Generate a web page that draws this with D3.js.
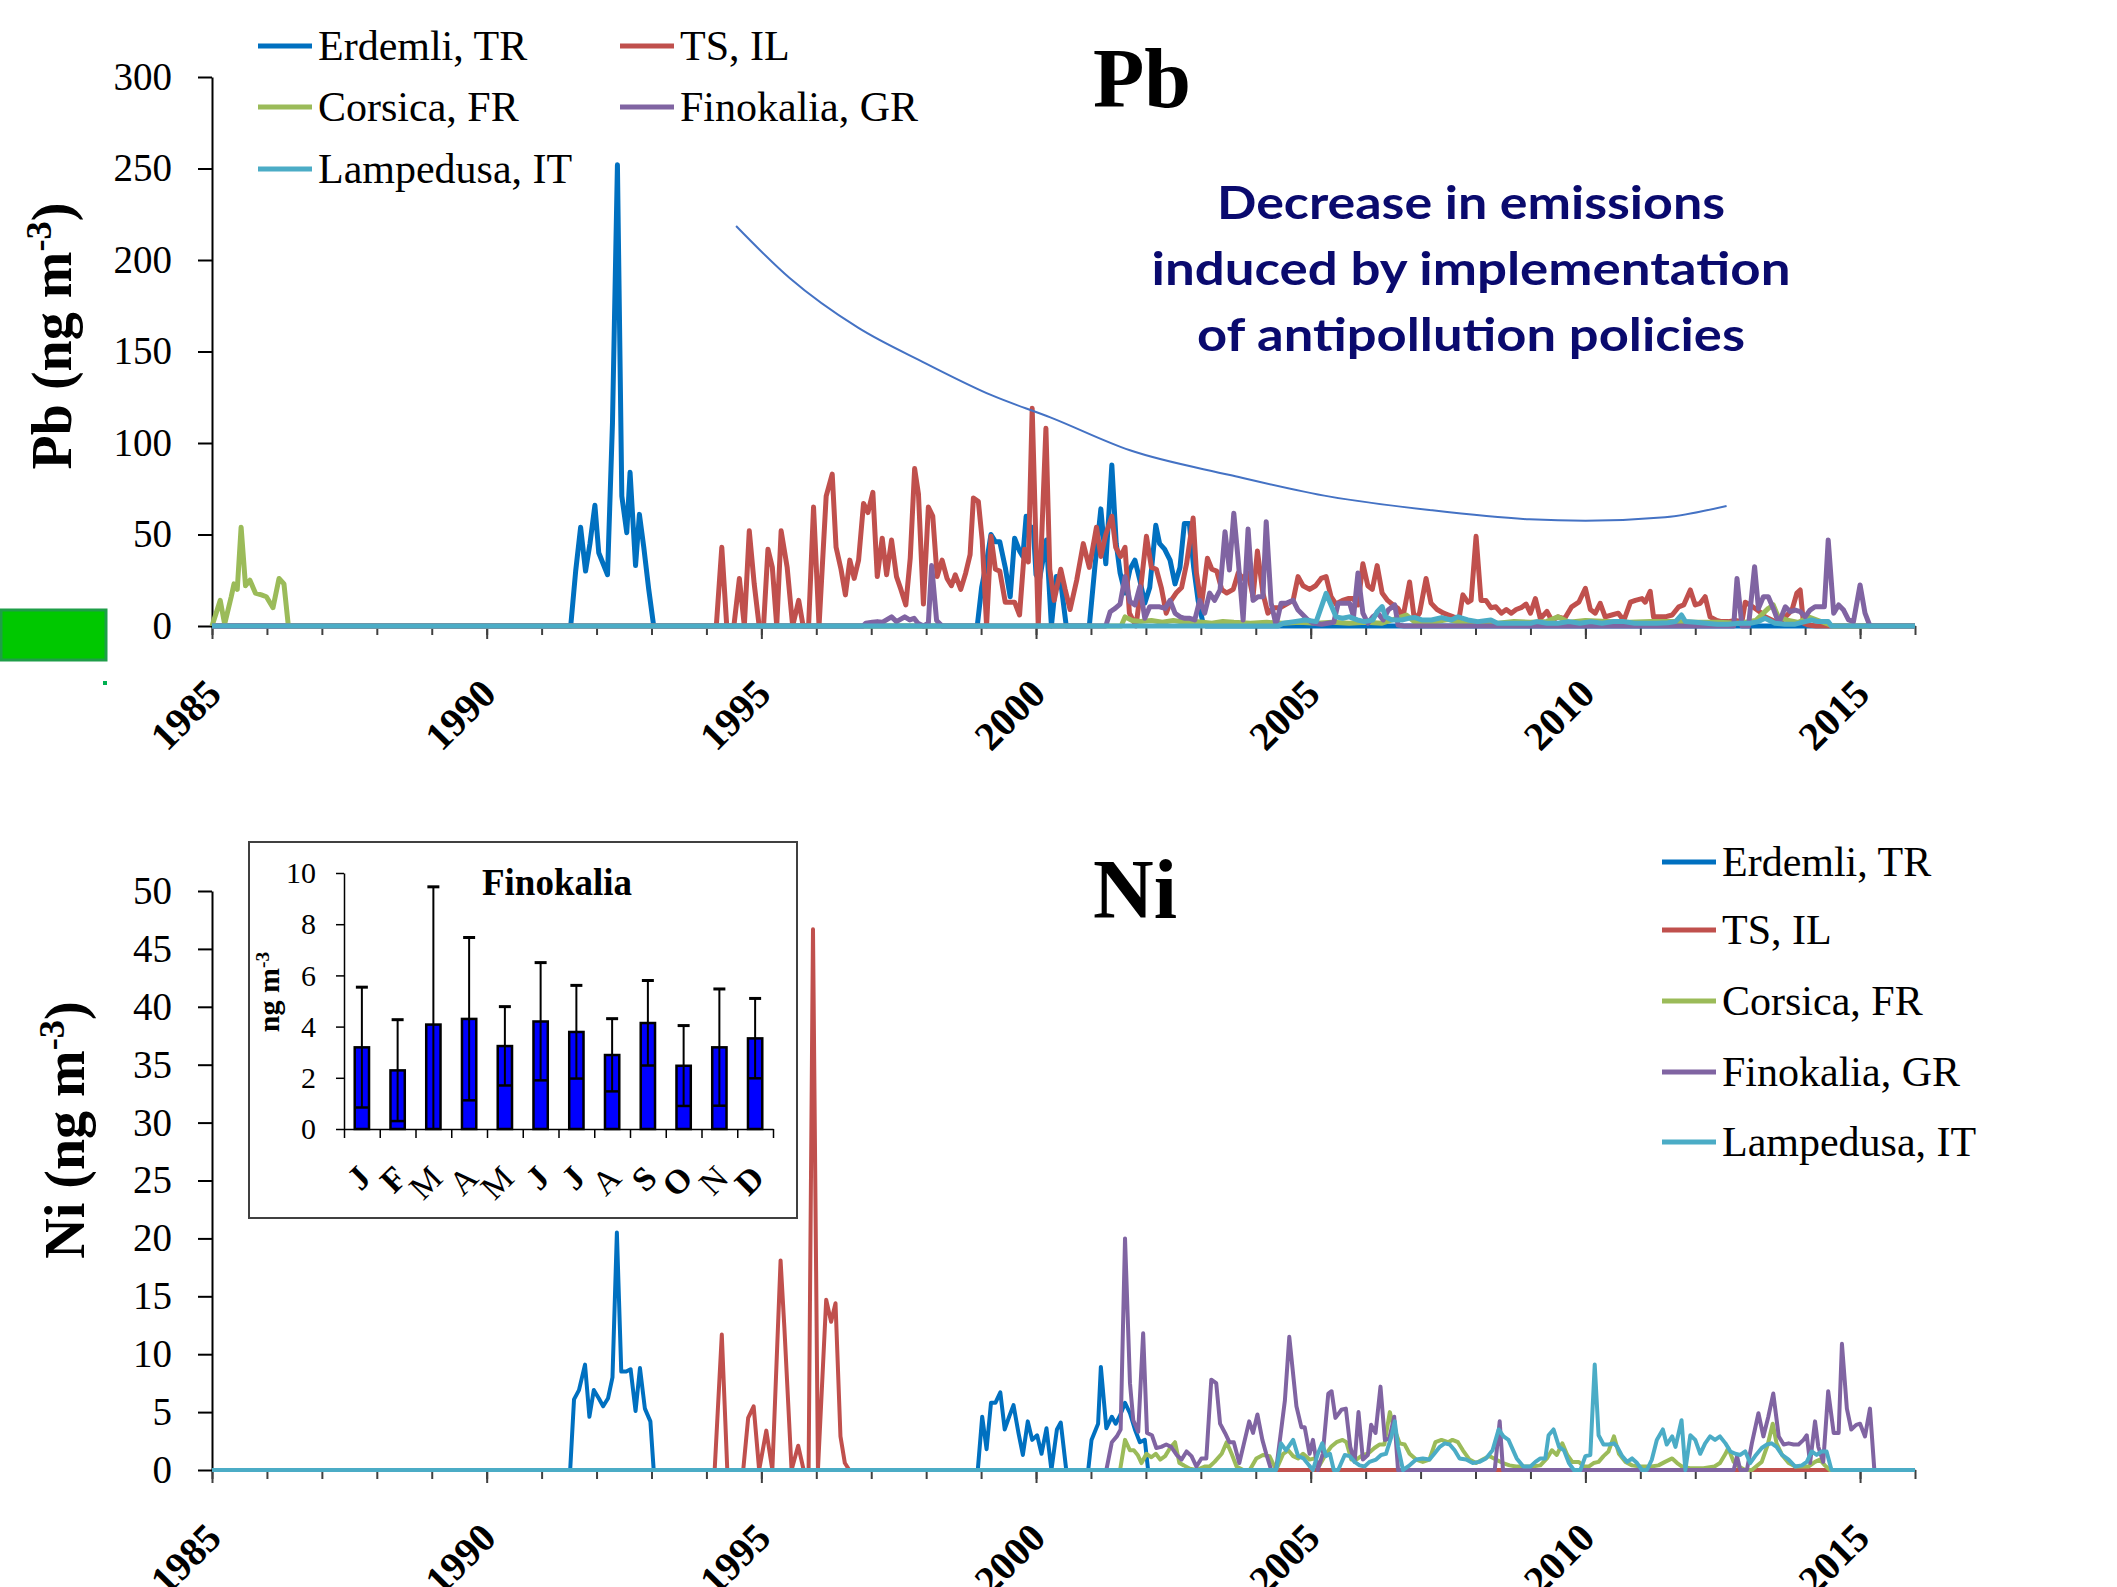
<!doctype html>
<html>
<head>
<meta charset="utf-8">
<script src="https://cdnjs.cloudflare.com/ajax/libs/d3/7.8.5/d3.min.js"></script>
<style>
    body { margin: 0; background: #fff; }
    svg { display: block; }
</style>
</head>
<body>
<script>
// ---- data (decimal year, ng m-3) ----
var sites = ["Erdemli, TR", "TS, IL", "Corsica, FR", "Finokalia, GR", "Lampedusa, IT"];
var colors = ["#0070c0", "#c0504d", "#9bbb59", "#8064a2", "#4bacc6"];

var pbErdemli = [[1985,0],[1991.53,0],[1991.62,30],[1991.71,54],[1991.8,30],[1991.88,45],[1991.97,66],[1992.04,40],[1992.12,34],[1992.2,28],[1992.29,111],[1992.38,252],[1992.46,71],[1992.55,51],[1992.61,84],[1992.71,33],[1992.78,61],[1992.86,43],[1992.95,20],[1993.04,0],
    [1998.93,0],[1999.01,21],[1999.1,35],[1999.18,50],[1999.26,46],[1999.34,46],[1999.44,32],[1999.53,16],[1999.61,48],[1999.7,41],[1999.76,38],[1999.82,60],[1999.9,53],[1999.95,54],[2000.0,28],[2000.06,25],[2000.19,47],[2000.28,0],[2000.37,27],[2000.46,21.5],[2000.55,0],
    [2000.97,0],[2001.07,32],[2001.18,64],[2001.27,34],[2001.38,88],[2001.46,45],[2001.53,29],[2001.62,18],[2001.71,31],[2001.8,36],[2001.89,25],[2001.98,12.5],[2002.07,21],[2002.18,55],[2002.25,45],[2002.34,42],[2002.44,36],[2002.53,23],[2002.62,32],[2002.7,56],[2002.79,56],[2002.87,32],[2002.95,14],[2003.04,1.5],[2003.1,0],[2016,0]];
var pbTS = [[1985,0],[1994.18,0],[1994.28,43],[1994.37,0],[1994.5,0],[1994.6,26],[1994.69,0],[1994.78,52],[1994.87,23],[1994.96,0],[1995.04,0],[1995.12,42],[1995.2,32],[1995.28,0],[1995.36,52],[1995.47,32],[1995.57,0],[1995.68,14],[1995.76,0],[1995.86,0],[1995.95,65],[1996.05,0],[1996.18,71],[1996.29,83],[1996.36,43],[1996.45,31],[1996.53,17],[1996.61,36],[1996.69,26],[1996.77,36],[1996.86,67],[1996.94,62],[1997.03,73],[1997.11,27],[1997.2,48],[1997.28,28],[1997.37,47],[1997.46,27],[1997.54,20],[1997.63,11.5],[1997.71,37],[1997.79,86],[1997.86,72],[1997.95,12],[1998.04,65],[1998.12,60],[1998.2,27],[1998.29,36],[1998.38,26],[1998.46,22],[1998.53,28],[1998.63,20],[1998.72,29],[1998.8,39],[1998.86,70],[1998.95,68],[1999.02,47],[1999.1,0],[1999.18,49],[1999.26,31],[1999.34,30],[1999.44,13],[1999.61,13],[1999.7,6],[1999.79,42],[1999.86,35],[1999.93,119],[2000.04,0],[2000.18,108],[2000.25,31],[2000.33,14],[2000.45,31],[2000.53,20],[2000.62,9],[2000.74,25],[2000.86,45],[2000.97,32],[2001.1,54],[2001.18,38],[2001.27,50],[2001.38,60],[2001.45,43],[2001.54,38],[2001.62,43],[2001.7,7],[2001.82,0],[2001.88,14],[2002.01,49],[2002.1,32],[2002.19,31],[2002.28,21],[2002.37,7],[2002.46,14],[2002.55,18],[2002.65,21],[2002.74,34],[2002.86,59],[2002.92,29],[2003.01,11],[2003.12,37],[2003.2,31],[2003.29,30],[2003.38,20],[2003.47,18],[2003.59,20],[2003.68,29],[2003.77,26],[2003.86,29],[2003.95,16],[2004.03,41],[2004.13,18],[2004.22,7],[2004.32,10],[2004.44,10],[2004.56,12],[2004.68,14],[2004.77,27],[2004.86,22],[2004.98,20],[2005.09,22],[2005.19,26],[2005.28,27],[2005.37,16],[2005.46,12],[2005.58,14],[2005.68,15],[2005.77,15],[2005.86,11.5],[2005.95,34],[2006.04,22],[2006.12,20],[2006.21,33],[2006.3,18],[2006.4,14],[2006.5,11.5],[2006.59,9.5],[2006.68,5],[2006.8,24],[2006.89,3],[2006.98,7],[2007.1,26],[2007.19,12.5],[2007.3,9],[2007.42,7],[2007.51,6],[2007.6,5],[2007.7,4],[2007.77,17],[2007.86,13],[2007.92,14],[2008.01,49],[2008.1,14],[2008.19,14],[2008.28,10],[2008.37,10.5],[2008.47,7],[2008.56,9],[2008.65,7],[2008.74,9],[2008.83,10],[2008.92,12],
    [2009.0,7],[2009.09,15],[2009.18,4],[2009.3,8],[2009.39,3],[2009.5,5],[2009.62,4],[2009.75,10.5],[2009.88,13],[2010.0,20.6],[2010.09,9],[2010.18,7],[2010.27,12.4],[2010.36,5],[2010.48,6],[2010.6,7],[2010.7,3],[2010.82,13],[2010.91,14],[2011.03,15],[2011.09,13],[2011.18,19],[2011.24,5],[2011.33,5],[2011.45,5],[2011.58,6],[2011.7,10.5],[2011.79,11.5],[2011.91,19.7],[2012.0,11.5],[2012.09,12.4],[2012.18,16],[2012.27,5],[2012.39,3],[2012.48,2.4],[2012.6,2.4],[2012.73,3],[2012.85,2.4],[2012.91,13],[2013.0,11.5],[2013.09,9.6],[2013.21,7],[2013.27,5],[2013.45,2.4],[2013.58,3],[2013.76,8.7],[2013.85,18],[2013.91,19.7],[2013.97,1.5],[2014.06,0.5],[2014.2,0],[2016,0]];
var pbCorsica = [[1985,0],[1985.15,14],[1985.23,1],[1985.35,16],[1985.4,23],[1985.46,20],[1985.53,54],[1985.61,22],[1985.69,25],[1985.79,18],[1985.9,17],[1985.99,16],[1986.11,10],[1986.22,26],[1986.31,23],[1986.39,0],[2001.55,0],[2001.62,5],[2001.75,3],[2001.9,2.5],[2002.1,3],[2002.3,2],[2002.5,3],[2002.7,2],[2002.9,2.5],[2003.2,1.5],[2003.4,2.5],[2003.6,2],[2003.9,1.5],[2004.2,2],[2004.5,1.5],[2004.8,2],[2005.1,1.5],[2005.4,2],[2005.7,1.5],[2006.0,2],[2006.3,1.5],[2006.74,6],[2006.9,2],[2007.2,2],[2007.5,3.5],[2007.8,1.5],[2008.1,2],[2008.4,1.5],[2008.7,2.5],[2009.0,2],[2009.3,2.5],[2009.5,5],[2009.7,2],[2010.0,3],[2010.4,2.5],[2010.8,2],[2011.2,2.5],[2011.6,2.5],[2012.0,2],[2012.4,2],[2012.8,1.5],[2013.1,3],[2013.33,9.6],[2013.42,11.5],[2013.51,5],[2013.7,3],[2013.88,2],[2014.06,5],[2014.24,3],[2014.42,1],[2014.5,0],[2016,0]];
var pbFinokalia = [[1985,0],[1996.85,0],[1996.9,1.5],[1997.02,2],[1997.11,2.4],[1997.2,2],[1997.37,5],[1997.46,2.4],[1997.61,5],[1997.7,3.3],[1997.78,4.2],[1997.85,1.5],[1997.95,0],[1998.04,1.5],[1998.1,33],[1998.19,3],[1998.29,0],
    [2001.27,0],[2001.35,7.8],[2001.44,9.6],[2001.53,12],[2001.62,27],[2001.71,13.3],[2001.8,11.5],[2001.89,21.5],[2001.98,4.2],[2002.07,10.5],[2002.16,10.5],[2002.25,10.5],[2002.35,9.6],[2002.44,14],[2002.53,7],[2002.62,5],[2002.71,4.2],[2002.8,4.2],[2002.89,3.3],[2002.98,14],[2003.07,7],[2003.16,18],[2003.25,14],[2003.35,19.7],[2003.44,51.5],[2003.52,30.6],[2003.6,61.6],[2003.68,36],[2003.77,3.3],[2003.86,53],[2003.95,14],[2004.04,16],[2004.13,16],[2004.19,57],[2004.28,12.4],[2004.37,0.5],[2004.46,12.4],[2004.55,12.4],[2004.68,14],[2004.77,8.7],[2004.86,6],[2004.95,3.3],[2005.05,1.5],[2005.2,1],[2005.42,2],[2005.5,12.4],[2005.62,12.4],[2005.71,12.4],[2005.78,5],[2005.86,29],[2005.95,7],[2006.04,1.5],[2006.13,5],[2006.22,7],[2006.32,3.3],[2006.41,8.7],[2006.53,11.5],[2006.59,0.5],[2006.7,0],
    [2012.7,0],[2012.76,26],[2012.85,0],[2012.97,0],[2013.08,32.4],[2013.15,9.6],[2013.24,16],[2013.33,16],[2013.42,9.6],[2013.52,1.5],[2013.64,10.5],[2013.73,7.8],[2013.82,8.7],[2013.91,7.8],[2014.0,5],[2014.09,8.7],[2014.18,10.5],[2014.27,10.5],[2014.35,10.5],[2014.42,47],[2014.52,7],[2014.61,11.5],[2014.7,8.7],[2014.79,3.3],[2014.88,2.4],[2015.0,22.4],[2015.09,7],[2015.18,0],[2016,0]];
var pbLampedusa = [[1985,0],[2004.4,0],[2004.5,1.5],[2004.7,2.4],[2004.9,3.3],[2005.1,2.4],[2005.28,17.8],[2005.37,11.5],[2005.46,5],[2005.58,4.2],[2005.7,5],[2005.85,3.3],[2005.98,2.4],[2006.13,3.3],[2006.21,7.8],[2006.3,10.6],[2006.36,5],[2006.48,3.3],[2006.66,3.3],[2006.78,4.2],[2006.9,4.6],[2007.02,3.3],[2007.2,3.3],[2007.38,4.6],[2007.56,3.3],[2007.68,5],[2007.86,3.3],[2008.04,2.4],[2008.28,3.3],[2008.4,1.5],[2008.6,1.5],[2008.8,1.5],[2009.0,1.5],[2009.12,2.4],[2009.3,1.5],[2009.5,1.5],[2009.7,2.4],[2009.9,1.5],[2010.1,2.4],[2010.3,1.5],[2010.5,2.4],[2010.7,2.4],[2010.9,1.5],[2011.1,1.5],[2011.3,1.5],[2011.5,1.8],[2011.64,2.4],[2011.75,6],[2011.82,2.4],[2012.0,2],[2012.2,1.5],[2012.4,1],[2012.6,1],[2012.8,1.5],[2013.0,1.5],[2013.15,2.4],[2013.27,4.2],[2013.45,1.5],[2013.63,1],[2013.82,1],[2014.0,2.4],[2014.12,3.3],[2014.24,2.4],[2014.42,2.4],[2014.48,0],[2016,0]];

var niErdemli = [[1985,0],[1991.52,0],[1991.59,6.1],[1991.68,6.9],[1991.79,9.1],[1991.87,4.6],[1991.95,6.9],[1992.04,6.2],[1992.12,5.5],[1992.21,6.2],[1992.29,8],[1992.37,20.5],[1992.45,8.5],[1992.54,8.5],[1992.62,8.7],[1992.71,5.1],[1992.79,8.8],[1992.88,5.3],[1992.98,4.2],[1993.04,0],
    [1998.94,0],[1999.02,4.6],[1999.1,1.8],[1999.18,5.8],[1999.26,5.8],[1999.35,6.7],[1999.43,3.5],[1999.51,4.6],[1999.59,5.6],[1999.68,3.2],[1999.76,1.3],[1999.85,4.2],[1999.93,2.6],[2000.02,3],[2000.1,1.4],[2000.19,3.6],[2000.28,0],[2000.38,3.5],[2000.45,4.1],[2000.55,0],
    [2000.95,0],[2001.01,2.6],[2001.13,4],[2001.18,8.9],[2001.28,3.6],[2001.38,4.6],[2001.45,4],[2001.53,4.7],[2001.62,5.8],[2001.71,4.9],[2001.8,3.5],[2001.89,2.4],[2001.98,2.6],[2002.04,0],[2016,0]];
var niTS = [[1985,0],[1994.15,0],[1994.28,11.7],[1994.38,0],[1994.67,0],[1994.76,4.5],[1994.86,5.5],[1994.96,0],[1995.09,3.4],[1995.2,0],[1995.35,18.1],[1995.42,12.2],[1995.55,0],[1995.67,2.1],[1995.77,0],[1995.86,0],[1995.94,46.7],[1996.03,0],[1996.18,14.7],[1996.27,12.8],[1996.35,14.4],[1996.44,2.9],[1996.52,0.6],[1996.6,0],[2014.5,0]];
var niCorsica = [[1985,0],[2001.53,0],[2001.62,2.6],[2001.71,1.7],[2001.78,1.7],[2001.85,1.3],[2001.92,0.6],[2002.01,1.4],[2002.1,1.1],[2002.18,1.4],[2002.26,0.9],[2002.35,1.2],[2002.44,1.9],[2002.53,2.4],[2002.61,0.6],[2002.69,0.4],[2002.8,0.1],[2002.92,0],[2003.07,0.3],[2003.16,0.3],[2003.25,0.7],[2003.38,1.4],[2003.47,2.4],[2003.56,1.4],[2003.65,0.3],[2003.77,0],[2003.89,0],[2004.01,1],[2004.13,1.3],[2004.25,1.2],[2004.37,0],[2004.5,1.4],[2004.59,1.7],[2004.68,1.2],[2004.77,1],[2004.86,1.4],[2004.98,0.9],[2005.07,1],[2005.16,0.4],[2005.22,0.9],[2005.28,1.4],[2005.37,2],[2005.47,2.4],[2005.58,2.6],[2005.65,2.4],[2005.74,0.9],[2005.83,0.9],[2005.95,1.3],[2006.04,1.4],[2006.16,1.9],[2006.25,2.2],[2006.34,2.2],[2006.44,5],[2006.51,3.7],[2006.62,2.3],[2006.71,2.2],[2006.8,1.4],[2006.92,0.9],[2007.04,0.7],[2007.16,0.9],[2007.27,2.4],[2007.38,2.6],[2007.5,2.4],[2007.58,2.6],[2007.68,2.4],[2007.77,1.7],[2007.89,0.9],[2008.01,0.6],[2008.13,0.9],[2008.25,1.2],[2008.37,0.9],[2008.5,0.6],[2008.62,0.4],[2008.74,0.3],[2008.85,0.3],[2009.03,0.3],[2009.18,0.4],[2009.3,1],[2009.39,1.7],[2009.48,1.3],[2009.58,2.3],[2009.67,1.3],[2009.76,0.7],[2009.88,0.7],[2009.97,0.3],[2010.06,0.3],[2010.15,0.6],[2010.24,0.7],[2010.33,1.2],[2010.42,1.6],[2010.52,2.9],[2010.61,1.4],[2010.73,0.7],[2010.85,0.4],[2011.0,0.3],[2011.2,0.3],[2011.33,0.4],[2011.45,0.7],[2011.58,1],[2011.67,0.6],[2011.76,0.3],[2011.9,0.15],[2012.15,0.15],[2012.35,0.3],[2012.45,0.6],[2012.55,1.4],[2012.6,1.9],[2012.7,0.7],[2012.79,0.3],[2012.91,0],[2013.03,0],[2013.21,0.7],[2013.32,2.2],[2013.41,4],[2013.48,2.3],[2013.58,1.3],[2013.7,0.6],[2013.82,0.3],[2014.06,0.3],[2014.18,0.7],[2014.27,0.9],[2014.36,0.4],[2014.45,0],[2016,0]];
var niFinokalia = [[1985,0],[2001.28,0],[2001.38,2.4],[2001.47,2.9],[2001.54,3.5],[2001.62,20],[2001.71,7.5],[2001.77,4.3],[2001.86,3.3],[2001.95,11.8],[2002.02,3.2],[2002.11,3],[2002.19,1.9],[2002.28,2],[2002.37,2.2],[2002.46,2],[2002.56,1.3],[2002.65,0.9],[2002.74,1.6],[2002.83,1.2],[2002.92,0.3],[2003.01,1],[2003.1,1],[2003.19,7.8],[2003.28,7.5],[2003.35,4],[2003.44,3.2],[2003.52,2.4],[2003.6,2.4],[2003.7,0.6],[2003.77,2],[2003.88,4.2],[2003.95,3.2],[2004.03,4.8],[2004.12,2.6],[2004.19,1.4],[2004.28,0],[2004.37,0],[2004.53,6],[2004.61,11.5],[2004.74,5.5],[2004.83,3.7],[2004.89,3.7],[2004.98,1.4],[2005.04,2.6],[2005.13,0],[2005.22,1.4],[2005.32,6.6],[2005.38,6.8],[2005.45,4.5],[2005.56,5.2],[2005.64,5.3],[2005.72,2],[2005.8,0.7],[2005.87,5],[2005.95,0.9],[2006.04,1.3],[2006.1,3.9],[2006.18,3.2],[2006.27,7.2],[2006.35,2.6],[2006.43,2.7],[2006.52,4.6],[2006.59,0],[2008.35,0],[2008.44,4.2],[2008.5,0],
    [2012.7,0],[2012.76,1.2],[2012.82,0],[2012.94,0],[2013.03,2.3],[2013.15,4.9],[2013.24,2.9],[2013.33,4.6],[2013.42,6.6],[2013.52,2.9],[2013.61,2.2],[2013.7,2.3],[2013.79,2.2],[2013.88,2.2],[2013.97,2.6],[2014.03,3],[2014.09,0.6],[2014.18,4.2],[2014.24,2],[2014.33,0.7],[2014.42,6.8],[2014.52,3.2],[2014.61,3.2],[2014.67,10.9],[2014.76,5.3],[2014.84,3.5],[2014.93,3.9],[2015.0,4],[2015.09,2.9],[2015.18,5.3],[2015.26,0],[2016,0]];
var niLampedusa = [[1985,0],[2004.37,0],[2004.46,2.3],[2004.55,1.7],[2004.68,2.6],[2004.77,1.2],[2004.87,1],[2004.97,0.4],[2005.04,0],[2005.13,1.4],[2005.21,2.3],[2005.28,1.2],[2005.35,1.4],[2005.42,0],[2005.5,0],[2005.62,1.3],[2005.71,1.2],[2005.8,0.7],[2005.89,0.4],[2005.98,0.3],[2006.07,0.7],[2006.19,0.9],[2006.28,1.3],[2006.37,1.4],[2006.47,2.9],[2006.53,4.2],[2006.59,2],[2006.68,0],[2006.8,0.4],[2006.92,0.9],[2007.04,1],[2007.16,0.9],[2007.25,1.4],[2007.35,2],[2007.44,2.3],[2007.53,2.2],[2007.62,1.7],[2007.71,1],[2007.83,0.9],[2007.95,0.6],[2008.07,0.7],[2008.19,1],[2008.31,1.7],[2008.42,3.5],[2008.51,2.9],[2008.6,2.6],[2008.75,1],[2008.87,0.3],[2009.0,0.3],[2009.09,0.7],[2009.18,1],[2009.27,1],[2009.33,3],[2009.42,3.5],[2009.52,2],[2009.61,1.7],[2009.7,0.6],[2009.79,0],[2009.91,0],[2010.0,1.2],[2010.09,1.3],[2010.17,9.1],[2010.24,3],[2010.33,2.2],[2010.42,2.2],[2010.52,2.3],[2010.58,2],[2010.67,1.2],[2010.76,0.7],[2010.85,1],[2010.94,0.6],[2011.03,0],[2011.12,0],[2011.21,0.9],[2011.3,2.6],[2011.41,3.5],[2011.48,2.2],[2011.58,2.9],[2011.64,2],[2011.75,4.3],[2011.82,0],[2011.91,3],[2012.0,2.6],[2012.09,1.4],[2012.18,2.3],[2012.27,2.9],[2012.36,2.6],[2012.45,2.9],[2012.55,2.3],[2012.64,1.6],[2012.73,1.4],[2012.82,1.3],[2012.91,1.6],[2013.0,0.6],[2013.09,1.2],[2013.21,1.9],[2013.3,2.2],[2013.39,2.3],[2013.48,2],[2013.58,1.3],[2013.7,0.9],[2013.82,0.3],[2013.94,0.4],[2014.03,0.7],[2014.12,1.6],[2014.21,1.3],[2014.3,1.6],[2014.39,1.6],[2014.48,0],[2016,0]];

// hand-drawn trend arrow in the Pb panel (year, ng m-3)
var pbTrend = [[1994.54,218.6],[1995.52,190],[1996.76,163],[1997.98,143.7],[1999.2,126],[2000.26,114],[2001.71,96],[2003.53,82.5],[2005.35,70.7],[2007.16,63.4],[2008.98,58.3],[2010.0,57.5],[2011.45,59.4],[2012.57,65.6]];
var pbNote = ["Decrease in emissions", "induced by implementation", "of antipollution policies"];

// Finokalia monthly Ni (inset)
var months = ["J", "F", "M", "A", "M", "J", "J", "A", "S", "O", "N", "D"];
var niMonthMean = [3.19, 2.29, 4.08, 4.3, 3.24, 4.2, 3.79, 2.89, 4.14, 2.47, 3.19, 3.54];
var niMonthSd = [2.35, 1.98, 5.38, 3.18, 1.54, 2.3, 1.82, 1.42, 1.66, 1.57, 2.28, 1.56];

var yearTicks = d3.range(1985, 2017);
var yearLabels = [1985, 1990, 1995, 2000, 2005, 2010, 2015];
var pbTicks = [0, 50, 100, 150, 200, 250, 300];
var niTicks = [0, 5, 10, 15, 20, 25, 30, 35, 40, 45, 50];
var insetTicks = [0, 2, 4, 6, 8, 10];

var pbSeries = [pbErdemli, pbTS, pbCorsica, pbFinokalia, pbLampedusa];
var niSeries = [niErdemli, niTS, niCorsica, niFinokalia, niLampedusa];

// ---- drawing ----
var serif = "'Liberation Serif', 'Times New Roman', serif";
var svg = d3.select("body").append("svg")
    .attr("width", 2117)
    .attr("height", 1587);
svg.append("rect").attr("width", 2117).attr("height", 1587).attr("fill", "#fff");

function drawPanel(x, y, yTicks, series, lineWidth) {
    var y0 = y(0);
    // minor ticks every year
    svg.append("g")
        .attr("transform", "translate(0," + y0 + ")")
        .call(d3.axisBottom(x).tickValues(yearTicks).tickSize(9).tickSizeOuter(0).tickFormat(""))
        .call(function(g) {
            g.select(".domain").attr("stroke", "#404040").attr("stroke-width", 2);
            g.selectAll(".tick line").attr("stroke", "#404040").attr("stroke-width", 2);
        });
    var xa = svg.append("g")
        .attr("transform", "translate(0," + y0 + ")")
        .call(d3.axisBottom(x).tickValues(yearLabels).tickSize(13).tickSizeOuter(0).tickFormat(d3.format("d")));
    xa.select(".domain").remove();
    xa.selectAll(".tick line").attr("stroke", "#404040").attr("stroke-width", 2);
    xa.selectAll(".tick text")
        .attr("x", 0).attr("y", 0).attr("dy", 0)
        .attr("transform", "translate(11,70) rotate(-45)")
        .attr("text-anchor", "end")
        .attr("font-family", serif)
        .attr("font-weight", "bold")
        .attr("font-size", 40)
        .attr("fill", "#000");

    var ya = svg.append("g")
        .attr("transform", "translate(" + x.range()[0] + ",0)")
        .call(d3.axisLeft(y).tickValues(yTicks).tickSize(14).tickPadding(26).tickSizeOuter(0));
    ya.select(".domain").attr("stroke", "#000").attr("stroke-width", 2);
    ya.selectAll(".tick line").attr("stroke", "#000").attr("stroke-width", 2);
    ya.selectAll(".tick text")
        .attr("font-family", serif)
        .attr("font-size", 39)
        .attr("fill", "#000");

    var line = d3.line()
        .x(function(d) { return x(d[0]); })
        .y(function(d) { return y(d[1]); });
    svg.append("g").selectAll("path")
        .data(series)
        .enter().append("path")
        .attr("d", line)
        .attr("fill", "none")
        .attr("stroke", function(d, i) { return colors[i]; })
        .attr("stroke-width", lineWidth)
        .attr("stroke-linejoin", "round");
}

function yTitle(el, name) {
    el.append("tspan").text(name + " (ng m");
    el.append("tspan").attr("baseline-shift", "super").attr("font-size", "65%").text("-3");
    el.append("tspan").text(")");
}

function legendItem(g, i, lx, ly) {
    g.append("line")
        .attr("x1", lx).attr("x2", lx + 54)
        .attr("y1", ly).attr("y2", ly)
        .attr("stroke", colors[i]).attr("stroke-width", 5);
    g.append("text")
        .attr("x", lx + 60).attr("y", ly + 14)
        .attr("font-family", serif).attr("font-size", 42)
        .text(sites[i]);
}

// ---------- Pb ----------
var xPb = d3.scaleLinear().domain([1985, 2016]).range([212, 1915]);
var yPb = d3.scaleLinear().domain([0, 300]).range([626, 77]);
drawPanel(xPb, yPb, pbTicks, pbSeries, 5);

svg.append("path")
    .datum(pbTrend)
    .attr("d", d3.line().curve(d3.curveMonotoneX)
        .x(function(d) { return xPb(d[0]); })
        .y(function(d) { return yPb(d[1]); }))
    .attr("fill", "none")
    .attr("stroke", "#4472c4")
    .attr("stroke-width", 2);

svg.append("text")
    .attr("x", 1093).attr("y", 107)
    .attr("font-family", serif).attr("font-weight", "bold").attr("font-size", 84)
    .text("Pb");

var noteWidths = [508, 639, 548];
svg.append("g").selectAll("text")
    .data(pbNote)
    .enter().append("text")
    .attr("x", 1471)
    .attr("y", function(d, i) { return 219 + i * 66; })
    .attr("text-anchor", "middle")
    .attr("textLength", function(d, i) { return noteWidths[i]; })
    .attr("lengthAdjust", "spacingAndGlyphs")
    .attr("font-family", "Lato, 'Open Sans', sans-serif")
    .attr("font-weight", "bold")
    .attr("font-size", 46)
    .attr("fill", "#0a0a6e")
    .text(function(d) { return d; });

svg.append("text")
    .attr("transform", "translate(71,336) rotate(-90)")
    .attr("text-anchor", "middle")
    .attr("font-family", serif).attr("font-weight", "bold").attr("font-size", 56)
    .call(yTitle, "Pb");

var pbLegend = svg.append("g");
legendItem(pbLegend, 0, 258, 46);
legendItem(pbLegend, 1, 620, 46);
legendItem(pbLegend, 2, 258, 107);
legendItem(pbLegend, 3, 620, 107);
legendItem(pbLegend, 4, 258, 169);

// stray slide artefacts
svg.append("rect").attr("x", 1).attr("y", 610).attr("width", 105).attr("height", 50)
    .attr("fill", "#00c800").attr("stroke", "#1e9e48").attr("stroke-width", 3);
svg.append("rect").attr("x", 103).attr("y", 681).attr("width", 4).attr("height", 4).attr("fill", "#00b050");

// ---------- Ni ----------
var xNi = d3.scaleLinear().domain([1985, 2016]).range([212, 1915]);
var yNi = d3.scaleLinear().domain([0, 50]).range([1470, 891]);
drawPanel(xNi, yNi, niTicks, niSeries, 4);

svg.append("text")
    .attr("x", 1093).attr("y", 918)
    .attr("font-family", serif).attr("font-weight", "bold").attr("font-size", 84)
    .text("Ni");

svg.append("text")
    .attr("transform", "translate(84,1130) rotate(-90)")
    .attr("text-anchor", "middle")
    .attr("font-family", serif).attr("font-weight", "bold").attr("font-size", 56)
    .call(yTitle, "Ni");

var niLegend = svg.append("g");
[862, 930, 1001, 1072, 1142].forEach(function(ly, i) {
    legendItem(niLegend, i, 1662, ly);
});

// ---------- inset: Finokalia monthly ----------
var inset = svg.append("g");
inset.append("rect")
    .attr("x", 249).attr("y", 842).attr("width", 548).attr("height", 376)
    .attr("fill", "#fff").attr("stroke", "#404040").attr("stroke-width", 2);

var xi = d3.scaleBand().domain(d3.range(12)).range([344, 773]).paddingInner(0.6).paddingOuter(0.3);
var xiEdge = d3.scaleLinear().domain([0, 12]).range([344, 773]);
var yi = d3.scaleLinear().domain([0, 10]).range([1129, 873]);

var iy = inset.append("g")
    .attr("transform", "translate(344,0)")
    .call(d3.axisLeft(yi).tickValues(insetTicks).tickSize(8).tickPadding(20).tickSizeOuter(0));
iy.select(".domain").attr("stroke", "#000").attr("stroke-width", 1.5);
iy.selectAll(".tick line").attr("stroke", "#000").attr("stroke-width", 1.5);
iy.selectAll(".tick text").attr("font-family", serif).attr("font-size", 30).attr("fill", "#000");

var ix = inset.append("g")
    .attr("transform", "translate(0,1129)")
    .call(d3.axisBottom(xiEdge).tickValues(d3.range(13)).tickSize(9).tickSizeOuter(0).tickFormat(""));
ix.select(".domain").attr("stroke", "#000").attr("stroke-width", 1.5);
ix.selectAll(".tick line").attr("stroke", "#000").attr("stroke-width", 1.5);

var bar = inset.append("g").selectAll("g")
    .data(niMonthMean)
    .enter().append("g");
bar.append("rect")
    .attr("x", function(d, i) { return xi(i); })
    .attr("width", xi.bandwidth())
    .attr("y", function(d) { return yi(d); })
    .attr("height", function(d) { return yi(0) - yi(d); })
    .attr("fill", "#0000ff")
    .attr("stroke", "#000")
    .attr("stroke-width", 2.5);
bar.append("line")
    .attr("x1", function(d, i) { return xi(i) + xi.bandwidth() / 2; })
    .attr("x2", function(d, i) { return xi(i) + xi.bandwidth() / 2; })
    .attr("y1", function(d, i) { return yi(Math.max(0, d - niMonthSd[i])); })
    .attr("y2", function(d, i) { return yi(d + niMonthSd[i]); })
    .attr("stroke", "#000").attr("stroke-width", 2);
bar.append("line")
    .attr("x1", function(d, i) { return xi(i) + xi.bandwidth() / 2 - 6; })
    .attr("x2", function(d, i) { return xi(i) + xi.bandwidth() / 2 + 6; })
    .attr("y1", function(d, i) { return yi(d + niMonthSd[i]); })
    .attr("y2", function(d, i) { return yi(d + niMonthSd[i]); })
    .attr("stroke", "#000").attr("stroke-width", 3);
bar.each(function(d, i) {
    var lo = d - niMonthSd[i];
    if (lo <= 0) return;
    d3.select(this).append("line")
        .attr("x1", xi(i)).attr("x2", xi(i) + xi.bandwidth())
        .attr("y1", yi(lo)).attr("y2", yi(lo))
        .attr("stroke", "#000").attr("stroke-width", 2.5);
});

inset.append("g").selectAll("text")
    .data(months)
    .enter().append("text")
    .attr("transform", function(d, i) {
        return "translate(" + (xi(i) + xi.bandwidth() / 2 + 11) + ",1180) rotate(-45)";
    })
    .attr("text-anchor", "end")
    .attr("font-family", serif)
    .attr("font-size", 34)
    .attr("font-weight", function(d) { return (d == "M" || d == "A" || d == "N") ? "normal" : "bold"; })
    .text(function(d) { return d; });

inset.append("text")
    .attr("x", 557).attr("y", 895)
    .attr("text-anchor", "middle")
    .attr("font-family", serif).attr("font-weight", "bold").attr("font-size", 37)
    .text("Finokalia");

var iyt = inset.append("text")
    .attr("transform", "translate(279,992) rotate(-90)")
    .attr("text-anchor", "middle")
    .attr("font-family", serif).attr("font-weight", "bold").attr("font-size", 30);
iyt.append("tspan").text("ng m");
iyt.append("tspan").attr("baseline-shift", "super").attr("font-size", "65%").text("-3");
</script>
</body>
</html>
